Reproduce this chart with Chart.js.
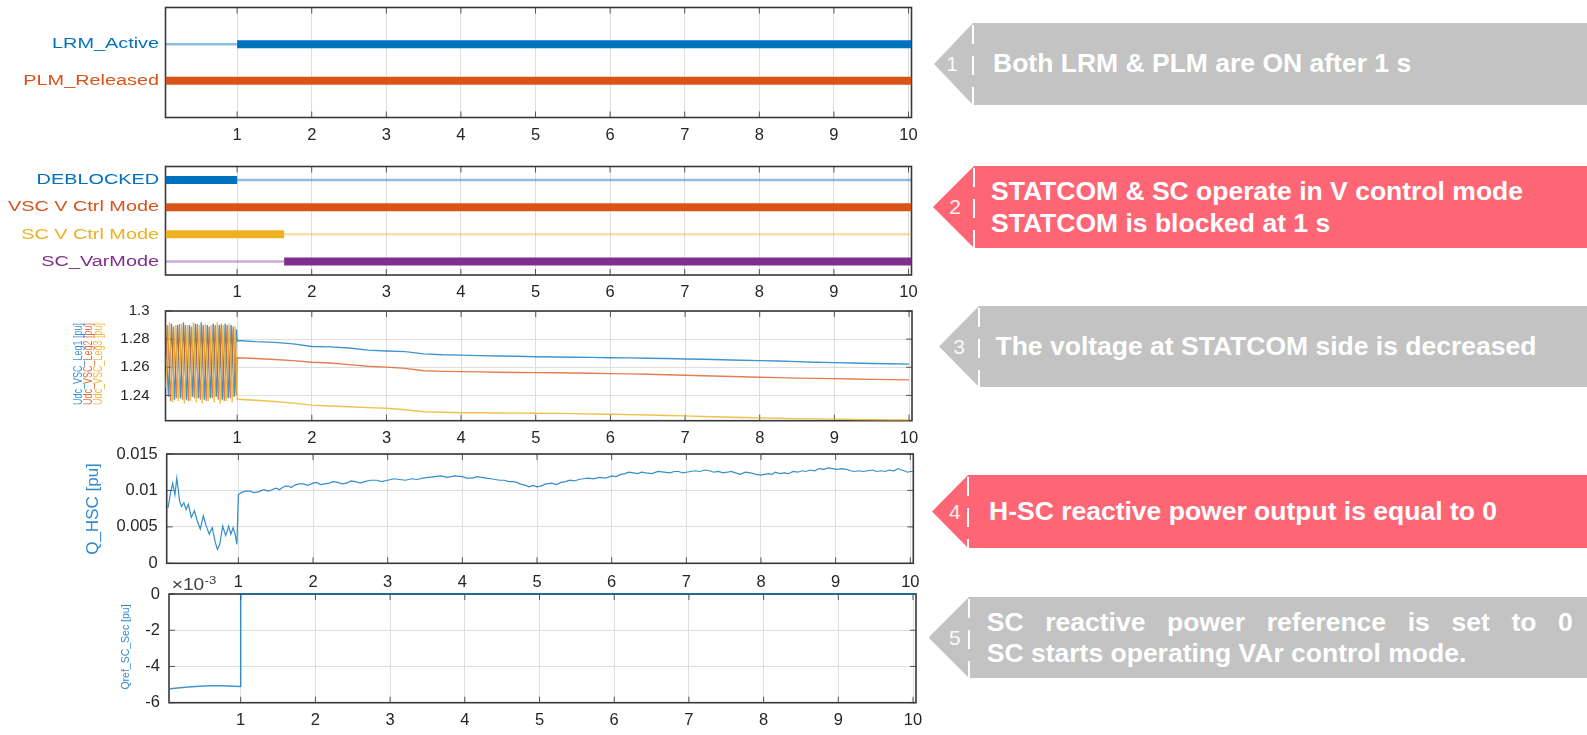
<!DOCTYPE html>
<html lang="en">
<head>
<meta charset="utf-8">
<title>LRM / PLM / STATCOM / SC signals</title>
<script src="https://cdn.jsdelivr.net/npm/chart.js@4.4.1/dist/chart.umd.min.js"></script>
<style>
  html, body { margin: 0; padding: 0; background: #fff; }
  #page { position: relative; width: 1587px; height: 735px; overflow: hidden; font-family: "Liberation Sans", Arial, sans-serif; }
  #page canvas { position: absolute; left: 0; top: 0; }
  .note { position: absolute; color: #fff; }
  .note.gray { background: #c3c3c3; }
  .note.red { background: #ff6675; }
  .note .num { position: absolute; top: 50%; transform: translate(-50%, -52%); font-size: 21px; color: rgba(255,255,255,0.93); }
  .note .sep { position: absolute; top: 0; bottom: 0; width: 2px;
    background: repeating-linear-gradient(to bottom, transparent 0 2px, #fff 2px 21px, transparent 21px 31px); }
  .note .txt { position: absolute; top: 50%; transform: translateY(-50%); font-weight: bold; font-size: 26.5px; line-height: 31.5px; white-space: nowrap; }
  .note .just { width: 586px; text-align: justify; text-align-last: justify; }
</style>
</head>
<body>
<div id="page">
  <canvas id="plotModes1" width="940" height="735"></canvas>
  <canvas id="plotModes2" width="940" height="735"></canvas>
  <canvas id="plotUdc" width="940" height="735"></canvas>
  <canvas id="plotQhsc" width="940" height="735"></canvas>
  <canvas id="plotQref" width="940" height="735"></canvas>

  <div class="note gray" style="left:934px;top:23px;width:653px;height:82px;clip-path:polygon(0 50%,39px 0,100% 0,100% 100%,39px 100%)">
    <span class="num" style="left:18px">1</span><span class="sep" style="left:38px"></span>
    <div class="txt" style="left:59px">Both LRM &amp; PLM are ON after 1 s</div>
  </div>
  <div class="note red" style="left:933px;top:166px;width:654px;height:82px;clip-path:polygon(0 50%,41px 0,100% 0,100% 100%,41px 100%)">
    <span class="num" style="left:22px">2</span><span class="sep" style="left:40px"></span>
    <div class="txt" style="left:58px">STATCOM &amp; SC operate in V control mode<br>STATCOM is blocked at 1 s</div>
  </div>
  <div class="note gray" style="left:939px;top:306px;width:648px;height:81px;clip-path:polygon(0 50%,40px 0,100% 0,100% 100%,40px 100%)">
    <span class="num" style="left:20px">3</span><span class="sep" style="left:39px"></span>
    <div class="txt" style="left:56.5px">The voltage at STATCOM side is decreased</div>
  </div>
  <div class="note red" style="left:932px;top:475px;width:655px;height:73px;clip-path:polygon(0 50%,36px 0,100% 0,100% 100%,36px 100%)">
    <span class="num" style="left:22.8px">4</span><span class="sep" style="left:35px"></span>
    <div class="txt" style="left:57px">H-SC reactive power output is equal to 0</div>
  </div>
  <div class="note gray" style="left:928.5px;top:597px;width:658.5px;height:81px;clip-path:polygon(0 50%,40.5px 0,100% 0,100% 100%,40.5px 100%)">
    <span class="num" style="left:26.3px">5</span><span class="sep" style="left:39.5px"></span>
    <div class="txt" style="left:58.3px"><div class="just">SC reactive power reference is set to 0</div><div>SC starts operating VAr control mode.</div></div>
  </div>
</div>

<script>
// Time axis (s)
const tMin = 0.04, tMax = 10.04;
const xTicks = [1, 2, 3, 4, 5, 6, 7, 8, 9, 10];

// Boolean signals: switching times and state (1 = active -> thick bar)
const modeNames1 = ['LRM_Active', 'PLM_Released'];
const lrmTimes = [0.04, 1.0, 10.04];
const lrmStates = [0, 1, 1];
const plmTimes = [0.04, 10.04];
const plmStates = [1, 1];

const modeNames2 = ['DEBLOCKED', 'VSC V Ctrl Mode', 'SC V Ctrl Mode', 'SC_VarMode'];
const deblockedTimes = [0.04, 1.0, 10.04];
const deblockedStates = [1, 0, 0];
const vscVTimes = [0.04, 10.04];
const vscVStates = [1, 1];
const scVTimes = [0.04, 1.63, 10.04];
const scVStates = [1, 0, 0];
const scVarTimes = [0.04, 1.63, 10.04];
const scVarStates = [0, 1, 1];

// Udc of the three VSC legs [pu] : oscillation before 1 s, then slow decay
const udcTicks = [1.24, 1.26, 1.28, 1.3];
const udcLeg1Osc = [[0.04,1.289],[0.08,1.239],[0.12,1.291],[0.16,1.237],[0.20,1.290],[0.24,1.238],[0.28,1.292],[0.32,1.237],
  [0.36,1.290],[0.40,1.239],[0.44,1.291],[0.48,1.238],[0.52,1.292],[0.56,1.237],[0.60,1.290],[0.64,1.238],[0.68,1.291],
  [0.72,1.239],[0.76,1.290],[0.80,1.237],[0.84,1.291],[0.88,1.238],[0.92,1.290],[0.96,1.239],[0.99,1.287]];
const udcLeg2Osc = [[0.04,1.262],[0.067,1.290],[0.107,1.236],[0.147,1.289],[0.187,1.238],[0.227,1.291],[0.267,1.237],
  [0.307,1.290],[0.347,1.236],[0.387,1.289],[0.427,1.238],[0.467,1.291],[0.507,1.237],[0.547,1.290],[0.587,1.236],
  [0.627,1.289],[0.667,1.238],[0.707,1.290],[0.747,1.237],[0.787,1.291],[0.827,1.236],[0.867,1.290],[0.907,1.238],
  [0.947,1.289],[0.987,1.240]];
const udcLeg3Osc = [[0.04,1.245],[0.093,1.292],[0.133,1.235],[0.173,1.290],[0.213,1.236],[0.253,1.291],[0.293,1.234],
  [0.333,1.290],[0.373,1.236],[0.413,1.292],[0.453,1.235],[0.493,1.290],[0.533,1.234],[0.573,1.291],[0.613,1.236],
  [0.653,1.290],[0.693,1.235],[0.733,1.292],[0.773,1.234],[0.813,1.290],[0.853,1.236],[0.893,1.291],[0.933,1.235],
  [0.973,1.289]];
const udcSlowTime = [1.0,1.25,1.5,1.75,2.0,2.25,2.5,2.75,3.0,3.25,3.5,3.75,4.0,4.25,4.5,4.75,5.0,5.25,5.5,5.75,6.0,
  6.25,6.5,6.75,7.0,7.25,7.5,7.75,8.0,8.25,8.5,8.75,9.0,9.25,9.5,9.75,10.0];
const udcLeg1Slow = [1.2790,1.2782,1.2777,1.2766,1.2748,1.2745,1.2737,1.2722,1.2716,1.2711,1.2695,1.2689,1.2686,1.2683,
  1.2680,1.2678,1.2675,1.2673,1.2671,1.2670,1.2668,1.2667,1.2664,1.2662,1.2659,1.2657,1.2653,1.2650,1.2647,1.2644,
  1.2640,1.2636,1.2633,1.2630,1.2627,1.2625,1.2622];
const udcLeg2Slow = [1.2668,1.2662,1.2655,1.2647,1.2636,1.2630,1.2619,1.2607,1.2601,1.2592,1.2575,1.2571,1.2569,1.2567,
  1.2565,1.2563,1.2562,1.2561,1.2559,1.2557,1.2555,1.2553,1.2550,1.2547,1.2543,1.2540,1.2536,1.2532,1.2529,1.2526,
  1.2523,1.2521,1.2519,1.2517,1.2514,1.2512,1.2510];
const udcLeg3Slow = [1.2372,1.2365,1.2356,1.2345,1.2331,1.2325,1.2319,1.2313,1.2308,1.2298,1.2284,1.2280,1.2277,1.2276,
  1.2275,1.2274,1.2273,1.2272,1.2270,1.2268,1.2266,1.2263,1.2260,1.2257,1.2254,1.2250,1.2246,1.2243,1.2240,1.2237,
  1.2235,1.2233,1.2231,1.2229,1.2227,1.2225,1.2224];

// Q_HSC [pu]
const qHscTicks = [0, 0.005, 0.01, 0.015];
const qHscPoints = [
  [0.057,0.0076],[0.096,0.0099],[0.12,0.011],[0.15,0.0094],[0.175,0.0117],[0.214,0.0085],[0.237,0.0078],[0.269,0.0083],
  [0.30,0.0074],[0.33,0.0081],[0.37,0.0063],[0.41,0.0072],[0.45,0.0058],[0.49,0.0047],[0.53,0.0065],[0.57,0.0051],
  [0.61,0.004],[0.65,0.0049],[0.69,0.0029],[0.72,0.0019],[0.75,0.0026],[0.79,0.0051],[0.83,0.0038],[0.87,0.0051],
  [0.90,0.004],[0.93,0.0049],[0.96,0.0038],[0.98,0.0026],[1.0,0.0094],
  [1.04,0.0097],[1.09,0.0099],[1.15,0.0099],[1.21,0.0097],[1.27,0.0098],[1.31,0.0100],[1.35,0.0101],[1.39,0.0099],
  [1.43,0.0100],[1.47,0.0102],[1.51,0.0103],[1.55,0.0101],[1.59,0.0104],[1.63,0.0106],[1.67,0.0106],[1.71,0.0104],
  [1.75,0.0107],[1.81,0.0109],[1.87,0.0109],[1.93,0.0107],[2.0,0.0110],[2.05,0.0111],[2.1,0.0108],[2.16,0.0109],
  [2.22,0.0110],[2.27,0.0112],[2.33,0.0111],[2.39,0.0109],[2.45,0.0110],[2.51,0.0113],[2.57,0.0112],[2.63,0.0110],
  [2.69,0.0112],[2.77,0.0114],[2.85,0.0114],[2.92,0.0112],[3.0,0.0114],[3.08,0.0116],[3.16,0.0115],[3.24,0.0114],
  [3.32,0.0116],[3.4,0.0115],[3.47,0.0117],[3.55,0.0118],[3.63,0.0119],[3.71,0.0120],[3.8,0.0118],[3.9,0.0120],
  [4.0,0.0119],[4.06,0.0117],[4.13,0.0117],[4.2,0.0119],[4.26,0.0118],[4.32,0.0117],[4.38,0.0116],[4.44,0.0115],
  [4.5,0.0114],[4.56,0.0114],[4.62,0.0112],[4.68,0.0112],[4.73,0.0111],[4.77,0.0109],[4.81,0.0108],[4.85,0.0107],
  [4.89,0.0105],[4.92,0.0106],[4.95,0.0107],[5.0,0.0105],[5.05,0.0106],[5.12,0.0109],[5.2,0.0110],[5.26,0.0108],
  [5.32,0.0111],[5.38,0.0112],[5.44,0.0114],[5.5,0.0113],[5.56,0.0115],[5.62,0.0116],[5.68,0.0117],[5.76,0.0116],
  [5.84,0.0118],[5.92,0.0117],[6.0,0.0120],[6.06,0.0119],[6.12,0.0122],[6.18,0.0123],[6.23,0.0125],[6.29,0.0124],
  [6.35,0.0123],[6.4,0.0125],[6.46,0.0124],[6.54,0.0123],[6.62,0.0126],[6.7,0.0125],[6.78,0.0124],[6.84,0.0126],
  [6.9,0.0126],[6.95,0.0124],[7.0,0.0125],[7.06,0.0126],[7.12,0.0127],[7.18,0.0126],[7.25,0.0128],[7.31,0.0127],
  [7.37,0.0125],[7.43,0.0126],[7.49,0.0124],[7.55,0.0125],[7.6,0.0126],[7.66,0.0124],[7.72,0.0122],[7.79,0.0125],
  [7.86,0.0124],[7.93,0.0122],[8.0,0.0121],[8.05,0.0122],[8.1,0.0123],[8.15,0.0122],[8.19,0.0125],[8.25,0.0123],
  [8.31,0.0124],[8.37,0.0123],[8.43,0.0126],[8.49,0.0125],[8.55,0.0127],[8.6,0.0126],[8.66,0.0128],[8.72,0.0127],
  [8.78,0.0130],[8.84,0.0129],[8.9,0.0131],[8.96,0.0130],[9.02,0.0129],[9.08,0.0130],[9.14,0.0129],[9.2,0.0127],
  [9.25,0.0126],[9.31,0.0127],[9.37,0.0126],[9.43,0.0127],[9.49,0.0128],[9.55,0.0126],[9.61,0.0127],[9.66,0.0126],
  [9.72,0.0128],[9.78,0.0127],[9.84,0.0130],[9.88,0.0128],[9.92,0.0127],[9.96,0.0125],[10.0,0.0126],[10.04,0.0126]];

// Qref_SC_Sec [pu]
const qRefTicks = [-0.006, -0.004, -0.002, 0];
const qRefPoints = [[0.04,-0.00524],[0.15,-0.00519],[0.3,-0.00513],[0.45,-0.00509],[0.6,-0.00507],[0.75,-0.00507],
  [0.9,-0.00509],[0.995,-0.0051],[1.0,0],[10.04,0]];

const fontFam = "'Liberation Sans', Arial, sans-serif";
const tickColor = '#262626';
const gridColor = '#dedede';
const W = 940, H = 735;
const blue = '#0072BD', orange = '#D95319', yellow = '#EDB120', purple = '#7E2F8E';

// Box with inward ticks, MATLAB style
const framePlugin = {
  id: 'frame',
  beforeDatasetsDraw(chart, args, opts) {
    const { ctx, chartArea: a, scales } = chart;
    ctx.save();
    ctx.strokeStyle = '#555';
    ctx.lineWidth = 1;
    ctx.beginPath();
    scales.x.ticks.forEach(t => {
      const px = scales.x.getPixelForValue(t.value);
      ctx.moveTo(px, a.top); ctx.lineTo(px, a.top + 6);
      ctx.moveTo(px, a.bottom); ctx.lineTo(px, a.bottom - 6);
    });
    if (opts.yTicks) {
      scales.y.ticks.forEach(t => {
        const py = scales.y.getPixelForValue(t.value);
        ctx.moveTo(a.left, py); ctx.lineTo(a.left + 6, py);
        ctx.moveTo(a.right, py); ctx.lineTo(a.right - 6, py);
      });
    }
    ctx.stroke();
    ctx.lineWidth = 1.6;
    ctx.strokeStyle = '#383838';
    ctx.strokeRect(a.left, a.top, a.right - a.left, a.bottom - a.top);
    ctx.restore();
  }
};

// Coloured signal names on the left of the mode plots
const signalLabels = {
  id: 'signalLabels',
  afterDraw(chart, args, opts) {
    if (!opts.names) return;
    const { ctx, chartArea: a, scales: { y } } = chart;
    ctx.save();
    ctx.font = opts.size + 'px ' + fontFam;
    ctx.textAlign = 'right';
    ctx.textBaseline = 'middle';
    opts.names.forEach((name, i) => {
      ctx.save();
      ctx.translate(a.left - opts.gap, y.getPixelForValue(opts.levels[i]));
      ctx.scale(opts.stretch, 1);
      ctx.fillStyle = opts.colors[i];
      ctx.fillText(name, 0, 0);
      ctx.restore();
    });
    ctx.restore();
  }
};

// Axis titles and the x10^-3 exponent
const sideTitles = {
  id: 'sideTitles',
  afterDraw(chart, args, opts) {
    if (!opts.items) return;
    const { ctx, chartArea: a } = chart;
    opts.items.forEach(it => {
      ctx.save();
      ctx.translate(a.left + it.dx, a.top + it.dy);
      ctx.scale(it.stretch || 1, 1);
      if (it.rotate) ctx.rotate(-Math.PI / 2);
      ctx.font = it.size + 'px ' + fontFam;
      ctx.textAlign = it.align || 'center';
      ctx.textBaseline = 'middle';
      ctx.fillStyle = it.color;
      ctx.fillText(it.text, 0, 0);
      ctx.restore();
    });
  }
};

Chart.register(framePlugin, signalLabels, sideTitles);

const fmtTick = v => String(parseFloat(v.toFixed(4)));

function plotOptions(box, yScale, plugins) {
  return {
    responsive: false,
    animation: false,
    events: [],
    layout: { padding: { top: box.top, right: W - box.right, bottom: H - box.bottom - 30, left: 0 } },
    elements: { point: { radius: 0 }, line: { tension: 0, fill: false } },
    scales: {
      x: {
        type: 'linear', min: tMin, max: tMax,
        afterFit: s => { s.height = 30; },
        afterBuildTicks: s => { s.ticks = xTicks.map(v => ({ value: v })); },
        grid: { color: gridColor, drawTicks: false },
        border: { display: false },
        ticks: { color: tickColor, font: { family: fontFam, size: 16.5 }, padding: box.xPad, maxRotation: 0, autoSkip: false }
      },
      y: Object.assign({
        type: 'linear',
        afterFit: s => { s.width = box.left; },
        border: { display: false }
      }, yScale)
    },
    plugins: Object.assign({ legend: { display: false }, tooltip: { enabled: false } }, plugins)
  };
}

// Boolean signal: thick bar while the state is 1, thin faded line otherwise
function modeDataset(times, states, level, color, faded) {
  return {
    data: times.map(t => ({ x: t, y: level })),
    borderColor: color,
    borderWidth: 8,
    borderCapStyle: 'butt',
    segment: {
      borderWidth: c => states[c.p0DataIndex] ? 8 : 2.5,
      borderColor: c => states[c.p0DataIndex] ? color : faded
    }
  };
}

const toXY = pts => pts.map(p => ({ x: p[0], y: p[1] }));
const slowXY = vals => udcSlowTime.map((t, i) => ({ x: t, y: vals[i] }));

// 1) LRM / PLM
const levels1 = [2, 1];
new Chart(document.getElementById('plotModes1'), {
  type: 'line',
  data: {
    datasets: [
      modeDataset(lrmTimes, lrmStates, levels1[0], blue, 'rgba(0,114,189,0.45)'),
      modeDataset(plmTimes, plmStates, levels1[1], orange, 'rgba(217,83,25,0.4)')
    ]
  },
  options: plotOptions({ left: 165.5, right: 911.5, top: 7.5, bottom: 117.5, xPad: 7.6 },
    { min: 0, max: 3, ticks: { display: false }, grid: { display: false } },
    { signalLabels: { names: modeNames1, levels: levels1, colors: [blue, orange], size: 15.5, gap: 6.5, stretch: 1.28 } })
});

// 2) Control modes
const levels2 = [3.5, 2.5, 1.5, 0.5];
new Chart(document.getElementById('plotModes2'), {
  type: 'line',
  data: {
    datasets: [
      modeDataset(deblockedTimes, deblockedStates, levels2[0], blue, 'rgba(0,114,189,0.45)'),
      modeDataset(vscVTimes, vscVStates, levels2[1], orange, 'rgba(217,83,25,0.4)'),
      modeDataset(scVTimes, scVStates, levels2[2], yellow, 'rgba(237,177,32,0.4)'),
      modeDataset(scVarTimes, scVarStates, levels2[3], purple, 'rgba(126,47,142,0.4)')
    ]
  },
  options: plotOptions({ left: 165.5, right: 911.5, top: 166.5, bottom: 275, xPad: 7.8 },
    { min: 0, max: 4, ticks: { display: false }, grid: { display: false } },
    { signalLabels: { names: modeNames2, levels: levels2, colors: [blue, orange, yellow, purple], size: 15.5, gap: 6.5, stretch: 1.28 } })
});

// 3) Udc legs
new Chart(document.getElementById('plotUdc'), {
  type: 'line',
  data: {
    datasets: [
      { data: toXY(udcLeg3Osc).concat(slowXY(udcLeg3Slow)), borderColor: 'rgba(237,177,32,0.8)', borderWidth: 1.4 },
      { data: toXY(udcLeg2Osc).concat(slowXY(udcLeg2Slow)), borderColor: 'rgba(217,83,25,0.75)', borderWidth: 1.4 },
      { data: toXY(udcLeg1Osc).concat(slowXY(udcLeg1Slow)), borderColor: 'rgba(0,114,189,0.75)', borderWidth: 1.4 }
    ]
  },
  options: plotOptions({ left: 165.5, right: 912, top: 311, bottom: 420.7, xPad: 7.4 },
    {
      min: 1.222, max: 1.3,
      afterBuildTicks: s => { s.ticks = udcTicks.map(v => ({ value: v })); },
      grid: { color: gridColor, drawTicks: false },
      ticks: { color: tickColor, font: { family: fontFam, size: 15 }, padding: 16, callback: fmtTick }
    },
    {
      frame: { yTicks: true },
      sideTitles: { items: [
        { text: 'Udc_VSC_Leg1 [pu]', color: '#3d93d6', size: 9, rotate: true, stretch: 1.45, dx: -87, dy: 53 },
        { text: 'Udc_VSC_Leg2 [pu]', color: '#e07040', size: 9, rotate: true, stretch: 1.45, dx: -77, dy: 53 },
        { text: 'Udc_VSC_Leg3 [pu]', color: '#f0b93a', size: 9, rotate: true, stretch: 1.45, dx: -67, dy: 53 }
      ] }
    })
});

// 4) Q_HSC
new Chart(document.getElementById('plotQhsc'), {
  type: 'line',
  data: { datasets: [{ data: toXY(qHscPoints), borderColor: 'rgba(0,114,189,0.8)', borderWidth: 1.2 }] },
  options: plotOptions({ left: 166.7, right: 913.3, top: 454, bottom: 563.3, xPad: 8.8 },
    {
      min: 0, max: 0.015,
      afterBuildTicks: s => { s.ticks = qHscTicks.map(v => ({ value: v })); },
      grid: { color: gridColor, drawTicks: false },
      ticks: { color: tickColor, font: { family: fontFam, size: 16.5 }, padding: 9, callback: fmtTick }
    },
    {
      frame: { yTicks: true },
      sideTitles: { items: [
        { text: 'Q_HSC [pu]', color: '#2f8ad2', size: 17, rotate: true, dx: -73, dy: 55 }
      ] }
    })
});

// 5) Qref_SC_Sec
new Chart(document.getElementById('plotQref'), {
  type: 'line',
  data: { datasets: [{ data: toXY(qRefPoints), borderColor: 'rgba(0,114,189,0.75)', borderWidth: 1.5, clip: 3 }] },
  options: plotOptions({ left: 169, right: 916, top: 594, bottom: 702.7, xPad: 7.4 },
    {
      min: -0.006, max: 0,
      afterBuildTicks: s => { s.ticks = qRefTicks.map(v => ({ value: v })); },
      grid: { color: gridColor, drawTicks: false },
      ticks: { color: tickColor, font: { family: fontFam, size: 16.5 }, padding: 9, callback: v => String(Math.round(v * 1000)) }
    },
    {
      frame: { yTicks: true },
      sideTitles: { items: [
        { text: 'Qref_SC_Sec [pu]', color: '#2f8ad2', size: 10.5, rotate: true, dx: -43.2, dy: 53 },
        { text: '\u00d710', color: '#404040', size: 16, align: 'left', stretch: 1.2, dx: 2.7, dy: -8 },
        { text: '-3', color: '#404040', size: 11, align: 'left', stretch: 1.2, dx: 35.5, dy: -13 }
      ] }
    })
});
</script>
</body>
</html>
